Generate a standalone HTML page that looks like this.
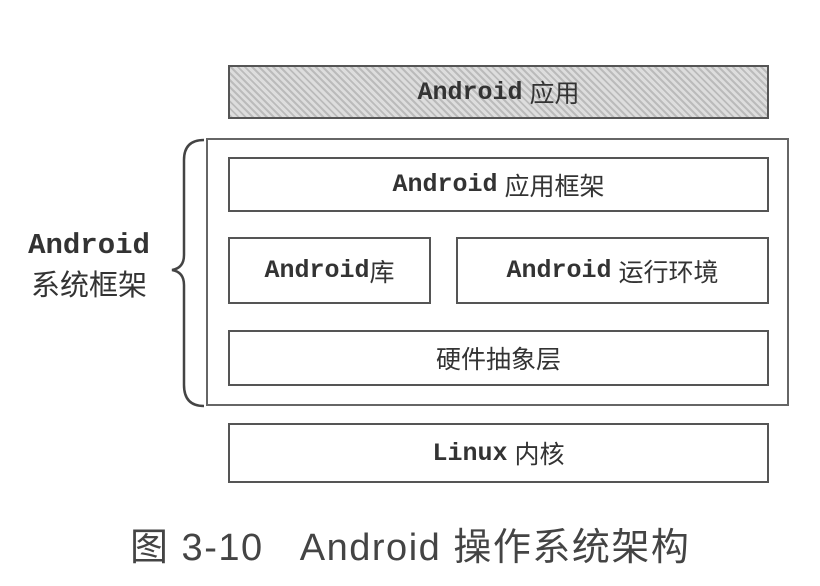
<!DOCTYPE html>
<html><head><meta charset="utf-8"><style>
body{margin:0;width:820px;height:586px;background:#fff;position:relative;overflow:hidden;font-family:"Liberation Sans","Noto Sans CJK SC",sans-serif;color:#333}
.b{position:absolute;border:2px solid #555;box-sizing:border-box;display:flex;align-items:center;justify-content:center;font-size:25px}
.m{font-family:"Liberation Mono","DejaVu Sans Mono",monospace;font-weight:bold;font-size:25px}
</style></head><body>
<div class="b" style="left:228px;top:65px;width:541px;height:54px;background:#cfcfcf;background-image:repeating-linear-gradient(45deg,#bbb 0 2px,#ddd 2px 5px)"><span class="m">Android</span>&nbsp;应用</div>
<div class="b" style="left:206px;top:138px;width:583px;height:268px;border-color:#666"></div>
<div class="b" style="left:228px;top:157px;width:541px;height:55px"><span class="m">Android</span>&nbsp;应用框架</div>
<div class="b" style="left:228px;top:237px;width:203px;height:67px"><span class="m">Android</span>库</div>
<div class="b" style="left:456px;top:237px;width:313px;height:67px"><span class="m">Android</span>&nbsp;运行环境</div>
<div class="b" style="left:228px;top:330px;width:541px;height:56px">硬件抽象层</div>
<div class="b" style="left:228px;top:423px;width:541px;height:60px"><span class="m">Linux</span>&nbsp;内核</div>
<div style="position:absolute;left:14px;top:224px;width:150px;text-align:center;line-height:40px;font-size:29px"><span class="m" style="font-size:29px">Android</span><br>系统框架</div>
<svg style="position:absolute;left:0;top:0" width="820" height="586"><path d="M204 140 Q184 140 184 160 L184 255 Q184 268 172 270 Q184 272 184 285 L184 385 Q184 406 204 406" fill="none" stroke="#444" stroke-width="2.5"/></svg>
<div style="position:absolute;left:130px;top:516px;font-size:38px;letter-spacing:1.5px;color:#444;white-space:pre">图 3-10   Android 操作系统架构</div>
</body></html>
